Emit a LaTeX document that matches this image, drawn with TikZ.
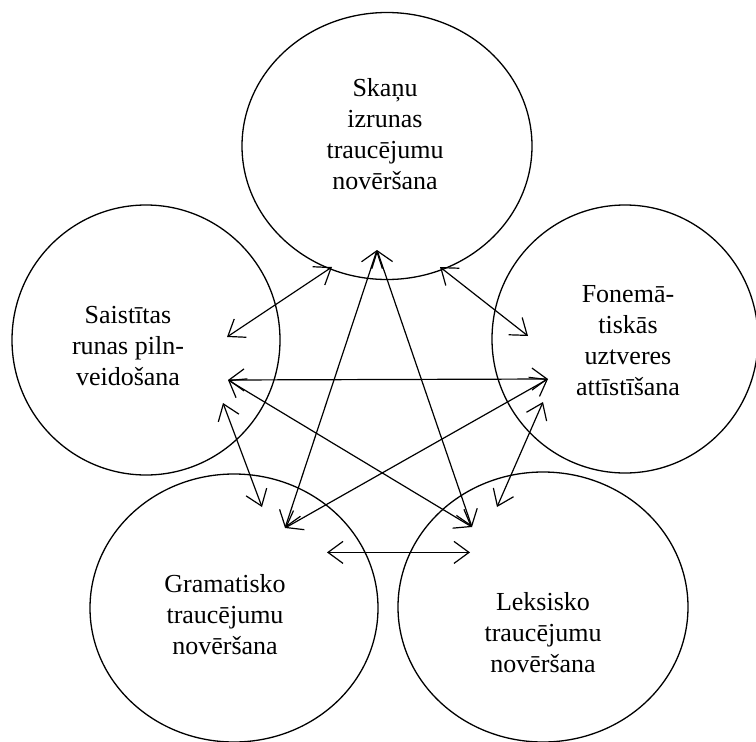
\documentclass[tikz,border=0pt]{standalone}
\usepackage{fontspec}
\setmainfont{Liberation Serif}
\usepackage{tikz}
\usetikzlibrary{shapes.geometric, arrows.meta, positioning}
\tikzstyle{area} = [ellipse, draw=black, line width=1.3pt, minimum width=290pt, minimum height=267pt, inner sep=0pt]
\tikzstyle{areatext} = [align=center, font=\fontsize{26pt}{31pt}\selectfont, inner sep=0pt]
\tikzstyle{link} = [line width=1.2pt, {Straight Barb[length=15pt,width=22pt,line width=1.2pt]}-{Straight Barb[length=15pt,width=22pt,line width=1.2pt]}]

\begin{document}
\begin{tikzpicture}[x=1pt, y=-1pt]
\useasboundingbox (0,0) rectangle (756,742);

% circles
\node (skanu) [area] at (387,146) {};
\node (saist) [area, minimum width=268pt, minimum height=270pt] at (146,340) {};
\node (fonem) [area, minimum width=266pt, minimum height=268pt] at (625,339) {};
\node (gram) [area, minimum width=288pt, minimum height=268pt] at (234,608) {};
\node (leks) [area, minimum width=290pt, minimum height=270pt] at (543,607) {};

% texts
\node (skanu-t) [areatext] at (385,134) {Skaņu\\izrunas\\traucējumu\\novēršana};
\node (saist-t) [areatext] at (128,346) {Saistītas\\runas piln-\\veidošana};
\node (fonem-t) [areatext] at (628,341) {Fonemā-\\tiskās\\uztveres\\attīstīšana};
\node (gram-t) [areatext] at (225,615) {Gramatisko\\traucējumu\\novēršana};
\node (leks-t) [areatext] at (543,633) {Leksisko\\traucējumu\\novēršana};

% arrow ends
\coordinate (skanu-l) at (332,267);
\coordinate (skanu-r) at (440,267);
\coordinate (skanu-b) at (377,250);
\coordinate (saist-u) at (227,337);
\coordinate (saist-m) at (228,380);
\coordinate (saist-d) at (223,403);
\coordinate (fonem-u) at (528,336);
\coordinate (fonem-m) at (548,379);
\coordinate (fonem-d) at (543,402);
\coordinate (gram-u) at (262,507);
\coordinate (gram-m) at (285,528);
\coordinate (gram-r) at (327,552.4);
\coordinate (leks-u) at (497,507);
\coordinate (leks-m) at (472,527);
\coordinate (leks-l) at (470,552.4);

% links
\draw [link] (skanu-l) -- (saist-u);
\draw [link] (skanu-r) -- (fonem-u);
\draw [link] (saist-m) -- (fonem-m);
\draw [link] (skanu-b) -- (gram-m);
\draw [link] (skanu-b) -- (leks-m);
\draw [link] (saist-m) -- (leks-m);
\draw [link] (fonem-m) -- (gram-m);
\draw [link] (saist-d) -- (gram-u);
\draw [link] (fonem-d) -- (leks-u);
\draw [link] (gram-r) -- (leks-l);

\end{tikzpicture}
\end{document}
